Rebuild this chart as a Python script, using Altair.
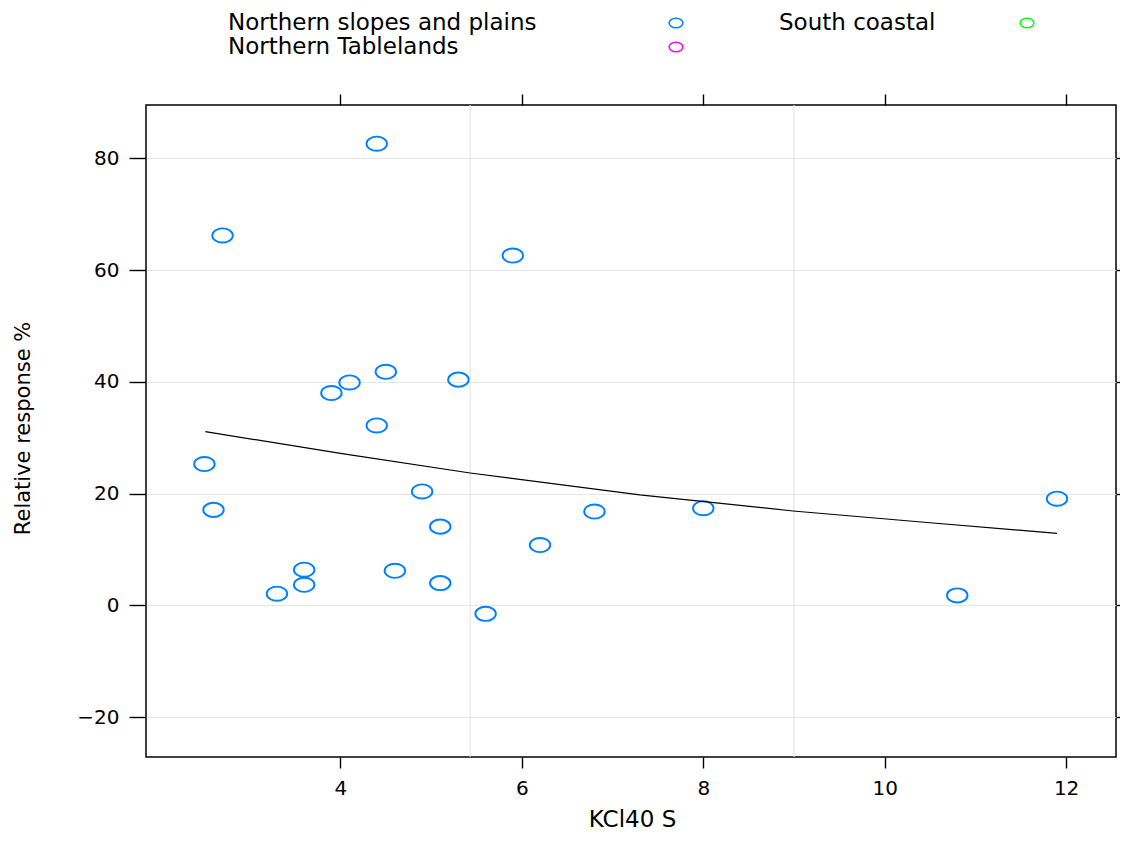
import altair as alt
import pandas as pd

# ---- data ----
x_vals = [4.4, 2.7, 5.9, 3.9, 4.1, 4.5, 5.3, 4.4, 2.5, 2.6, 4.9, 5.1, 6.2, 6.8, 8.0,
          11.9, 10.8, 3.6, 3.6, 3.3, 4.6, 5.1, 5.6]
y_vals = [82.6, 66.2, 62.6, 38.0, 39.9, 41.8, 40.4, 32.2, 25.3, 17.1, 20.4, 14.1, 10.8,
          16.8, 17.4, 19.1, 1.8, 6.4, 3.7, 2.1, 6.2, 4.0, -1.5]
curve_x = [2.51, 4.0, 5.43, 7.3, 8.99, 10.5, 11.9]
curve_y = [31.1, 27.2, 23.7, 19.8, 16.9, 14.8, 12.9]
vgrid_x = [5.43, 9.0]
x_ticks = [4, 6, 8, 10, 12]
y_ticks = [-20, 0, 20, 40, 60, 80]
legend_names = ["Northern slopes and plains", "Northern Tablelands", "South coastal"]
legend_colors = ["#0080ff", "#ff00ff", "#00ff00"]

FONT = "DejaVu Sans"
X_DOMAIN = [1.856, 12.55]
Y_DOMAIN = [-27.11, 89.53]
ELLIPSE = "M-1.45,0A1.45,1,0,1,0,1.45,0A1.45,1,0,1,0,-1.45,0Z"

pts = pd.DataFrame({"x": x_vals, "y": y_vals})
curve = pd.DataFrame({"x": curve_x, "y": curve_y})
vg = pd.DataFrame({"x": vgrid_x})

xs = alt.Scale(domain=X_DOMAIN, nice=False, zero=False)
ys = alt.Scale(domain=Y_DOMAIN, nice=False, zero=False)

grid = alt.Chart(vg).mark_rule(color="#e6e6e6", strokeWidth=1.2).encode(
    x=alt.X("x:Q", scale=xs, axis=None)
)

points = alt.Chart(pts).mark_point(
    shape=ELLIPSE, size=200, filled=False, strokeWidth=1.9,
    color=legend_colors[0], opacity=1
).encode(
    x=alt.X("x:Q", scale=xs, axis=alt.Axis(
        orient="bottom", values=x_ticks, grid=False, tickSize=11, labelPadding=10,
        title="KCl40 S", titleX=486, titleY=62, titleAlign="center",
        titleBaseline="middle", titleFontSize=23)),
    y=alt.Y("y:Q", scale=ys, axis=alt.Axis(
        orient="left", values=y_ticks, grid=True, gridColor="#e6e6e6", gridWidth=1.2,
        tickSize=17, labelPadding=10,
        title="Relative response %", titleX=-123, titleY=323, titleAngle=270,
        titleAlign="center", titleBaseline="middle", titleFontSize=21)),
)

line = alt.Chart(curve).mark_line(color="black", strokeWidth=1.2).encode(
    x=alt.X("x:Q", scale=xs, axis=alt.Axis(
        orient="top", values=x_ticks, labels=False, title="", grid=False, tickSize=11)),
    y=alt.Y("y:Q", scale=ys, axis=alt.Axis(
        orient="right", values=y_ticks, labels=False, title="", grid=False, tickSize=17)),
)

# ---- key (lattice style: label then symbol) ----
key_text_pos = [(82, -75), (82, -51), (633, -75)]
key_sym_pos = [(530, -82), (530, -58), (881, -82)]
key_layers = []
for name, col, (tx, ty), (sx, sy) in zip(legend_names, legend_colors, key_text_pos, key_sym_pos):
    key_layers.append(
        alt.Chart(pd.DataFrame({"label": [name]})).mark_text(
            align="left", baseline="alphabetic", font=FONT, fontSize=23, color="black"
        ).encode(x=alt.value(tx), y=alt.value(ty), text="label:N")
    )
    key_layers.append(
        alt.Chart(pd.DataFrame({"label": [name]})).mark_point(
            shape=ELLIPSE, size=90, filled=False, strokeWidth=1.5, color=col, opacity=1
        ).encode(x=alt.value(sx), y=alt.value(sy))
    )

chart = alt.layer(grid, points, line, *key_layers).resolve_axis(
    x="independent", y="independent"
).properties(
    width=970, height=652,
    autosize=alt.AutoSizeParams(type="none"),
    padding={"left": 138, "top": 97, "right": 4, "bottom": 76},
    background="white",
).configure_view(
    stroke="black", strokeWidth=1.5
).configure_axis(
    domain=False, tickColor="black", tickWidth=1.4,
    labelFont=FONT, labelFontSize=20, labelColor="black",
    titleFont=FONT, titleFontWeight="normal", titleColor="black",
)

chart.save("out.html", embed_options={"renderer": "svg", "actions": False})
